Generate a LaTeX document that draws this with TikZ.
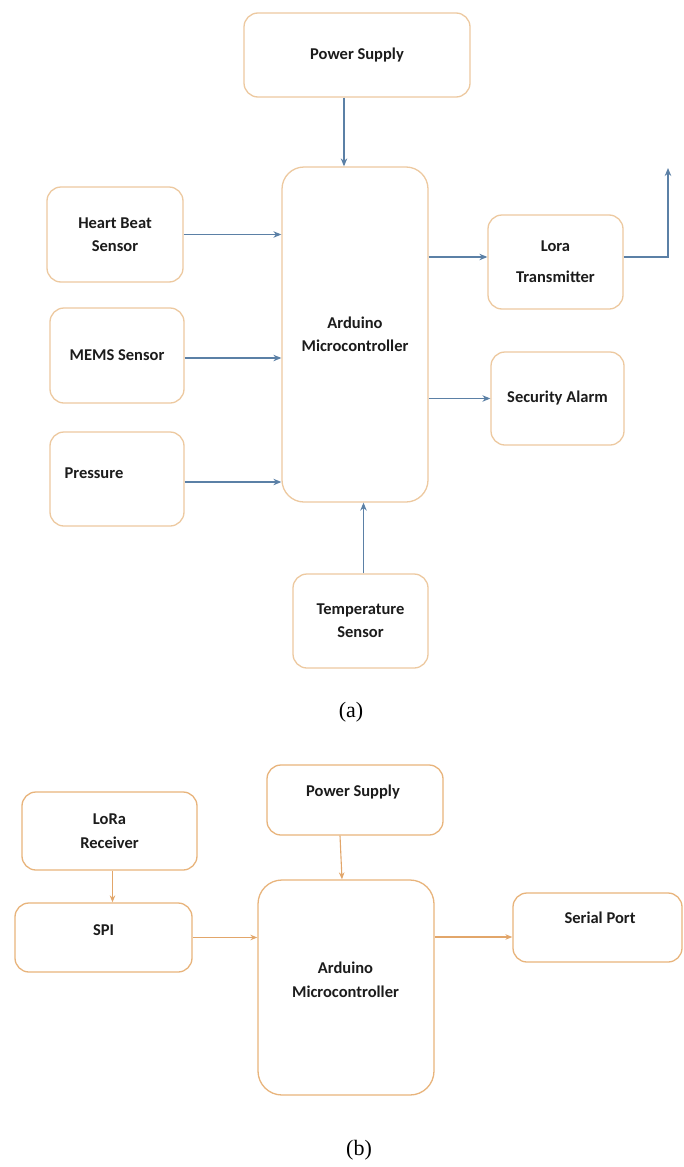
\documentclass[tikz,border=0pt]{standalone}
\usepackage{fontspec}
\setmainfont{Carlito}
\newfontfamily\capfont{Liberation Serif}
\usetikzlibrary{arrows.meta}
\definecolor{boxA}{HTML}{EDC9A0}
\definecolor{boxB}{HTML}{E8B47C}
\definecolor{arrA}{HTML}{5B80A6}
\definecolor{arrB}{HTML}{E2A66A}
\definecolor{txt}{HTML}{1C1C1C}
\tikzset{
  boxa/.style={draw=boxA, line width=1.3pt, rounded corners=14pt, fill=white, align=center, text=txt, font=\bfseries\fontsize{16.5}{23}\selectfont},
  boxb/.style={draw=boxB, line width=1.3pt, rounded corners=14pt, fill=white, align=center, text=txt, font=\bfseries\fontsize{16.5}{24}\selectfont},
  lbl/.style={text=txt, font=\bfseries\fontsize{16.5}{24}\selectfont, inner sep=0pt},
  conna/.style={draw=arrA, line width=1.1pt, -{Stealth[length=8pt,width=6.5pt]}},
  connb/.style={draw=arrB, line width=1.1pt, -{Stealth[length=7pt,width=5.5pt]}},
  captext/.style={font=\capfont\fontsize{22}{24}\selectfont, text=black}
}
\begin{document}
\begin{tikzpicture}[x=1pt,y=-1pt]
\useasboundingbox (0,0) rectangle (683,1167);
\fill[white] (0,0) rectangle (683,1167);
% (a)
\node[boxa, minimum width=226pt, minimum height=84pt] (ps) at (357,55) {Power Supply};
\node[boxa, minimum width=146pt, minimum height=335pt, rounded corners=22pt] (ard) at (355,334.5) {Arduino\\Microcontroller};
\node[boxa, minimum width=136pt, minimum height=95pt] (hb) at (115,234.5) {Heart Beat\\Sensor};
\node[boxa, minimum width=134pt, minimum height=95pt] (mems) at (117,355.5) {MEMS Sensor};
\node[boxa, minimum width=134pt, minimum height=94pt] (pr) at (117,479) {};
\node[lbl, anchor=west] (prt) at ([xshift=15pt,yshift=6pt]pr.west) {Pressure};
\node[boxa, minimum width=135pt, minimum height=94pt] (lora) at (555.5,262) {Lora\\[8pt]Transmitter};
\node[boxa, minimum width=133pt, minimum height=93pt] (sa) at (557.5,398.5) {Security Alarm};
\node[boxa, minimum width=135pt, minimum height=94pt] (temp) at (360.5,621) {Temperature\\Sensor};
\coordinate (ant) at (668,168);
\draw[conna] ([xshift=-13pt]ps.south) -- ([xshift=-11pt]ard.north);
\draw[conna] (hb.east) -- (hb.east -| ard.west);
\draw[conna] ([yshift=-2.5pt]mems.east) -- ([yshift=-2.5pt]mems.east -| ard.west);
\draw[conna] ([yshift=-3pt]pr.east) -- ([yshift=-3pt]pr.east -| ard.west);
\draw[conna] ([yshift=5pt]lora.west -| ard.east) -- ([yshift=5pt]lora.west);
\draw[conna] (sa.west -| ard.east) -- (sa.west);
\draw[conna] ([yshift=5pt]lora.east) -| (ant);
\draw[conna] ([xshift=3pt]temp.north) -- ([xshift=3pt]temp.north |- ard.south);
\node[captext] (capa) at (351,712) {(a)};
% (b)
\node[boxb, minimum width=175pt, minimum height=78pt] (lr) at (109.5,831) {LoRa\\Receiver};
\node[boxb, minimum width=177pt, minimum height=69pt] (spi) at (103.5,937.5) {};
\node[lbl] (spit) at (103.5,930) {SPI};
\node[boxb, minimum width=176pt, minimum height=70pt] (ps2) at (355,800) {};
\node[lbl] (ps2t) at (353,792) {Power Supply};
\node[boxb, minimum width=176pt, minimum height=215pt, rounded corners=24pt] (ard2) at (346,987.5) {};
\node[lbl, align=center] (ard2t) at (345.5,980) {Arduino\\Microcontroller};
\node[boxb, minimum width=169pt, minimum height=69pt] (sp) at (597.5,927.5) {};
\node[lbl] (spt) at (600,918) {Serial Port};
\draw[connb] ([xshift=3pt]lr.south) -- ([xshift=3pt]lr.south |- spi.north);
\draw[connb] (spi.east) -- (spi.east -| ard2.west);
\draw[connb] ([xshift=-15pt]ps2.south) -- ([xshift=-4pt]ard2.north);
\draw[connb] ([yshift=50.5pt]ard2.east) -- ([yshift=50.5pt]ard2.east -| sp.west);
\node[captext] (capb) at (359,1150) {(b)};
\end{tikzpicture}
\end{document}
